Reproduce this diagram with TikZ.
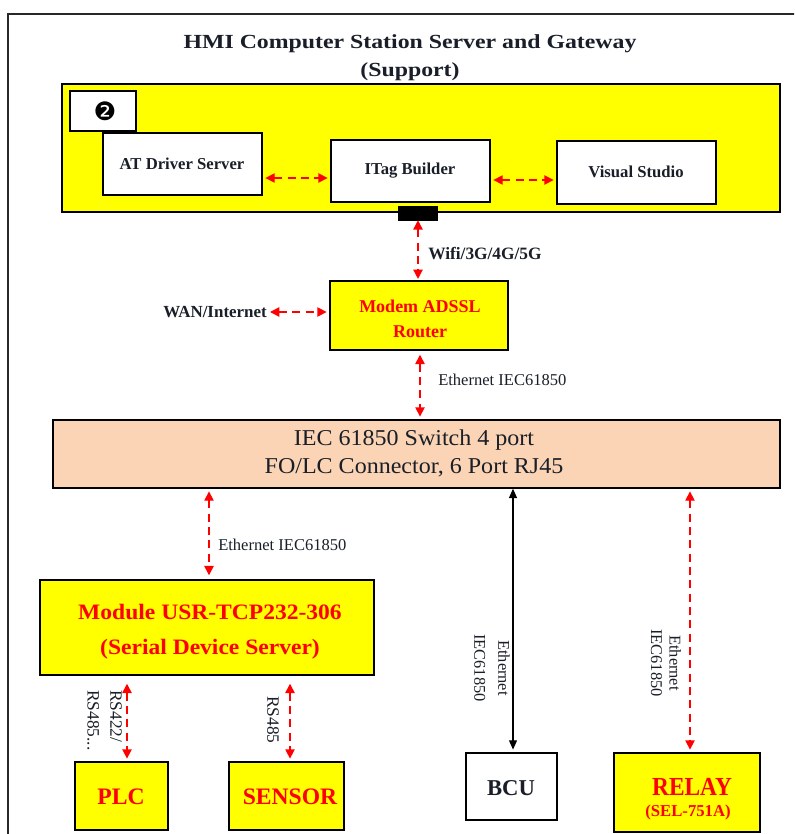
\documentclass[tikz,border=0pt]{standalone}
\usepackage{graphicx}
\usepackage{fontspec}
\setmainfont{Liberation Serif}
\newfontfamily\djv{DejaVu Sans}
\usetikzlibrary{arrows.meta,fit}
\definecolor{ylw}{RGB}{255,255,0}
\definecolor{peach}{RGB}{250,212,180}
\definecolor{rd}{RGB}{255,0,0}
\definecolor{frame}{RGB}{40,40,40}
\definecolor{ink}{RGB}{25,30,40}
\newcommand{\fs}[2]{\fontsize{#1}{#2}\selectfont}
\newcommand{\stk}[2]{\scalebox{#1}[1]{\begin{tabular}{@{}c@{}}#2\end{tabular}}}
\begin{document}
\begin{tikzpicture}[x=0.75pt,y=-0.75pt,
  box/.style={draw=black, line width=1.1pt, inner sep=0pt},
  ybox/.style={box, fill=ylw},
  wbox/.style={box, fill=white},
  redtxt/.style={text=rd, font=\bfseries\fs{#1}{#1}, inner sep=0pt},
  blktxt/.style={text=ink, font=\bfseries\fs{#1}{#1}, inner sep=0pt},
  rarr/.style={draw=rd, line width=1.1pt, dash pattern=on 6pt off 4pt,
    {Triangle[length=7pt,width=7pt]}-{Triangle[length=7pt,width=7pt]}},
  barr/.style={draw=black, line width=0.9pt,
    {Triangle[length=7pt,width=6pt]}-{Triangle[length=7pt,width=6pt]}},
  lbl/.style={text=ink, font=\fs{12.4}{12.4}, inner sep=0pt},
  blbl/.style={text=ink, font=\bfseries\fs{#1}{#1}, inner sep=0pt},
  vlbl/.style={text=ink, font=\fs{12.3}{#1}, inner sep=0pt, rotate=-90}
]
\useasboundingbox (0,0) rectangle (794,834);
\clip (0,0) rectangle (794,834);
\fill[white] (0,0) rectangle (794,834);
% outer frame
\draw[frame, line width=1.2pt] (8,14) rectangle (805,845);
% title
\node[text=ink, font=\bfseries\fs{15}{21}, inner sep=0pt] (title) at (410,57) {\stk{1.19}{HMI Computer Station Server and Gateway\\(Support)}};
% top yellow container
\node[ybox, fit={(62,84) (780,212)}] (hmi) {};
\node[wbox, fit={(70,91) (136,131)}] (num) {};
\node[inner sep=0pt, font=\djv\fs{19}{19}] (numt) at (105,111) {❷};
\node[wbox, fit={(103,133) (262,195)}] (atd) {};
\node[blktxt=12.5] (atdt) at (182,164) {AT Driver Server};
\node[wbox, fit={(331,140) (490,202)}] (itag) {};
\node[blktxt=12.5] (itagt) at (410,171) {ITag Builder};
\node[wbox, fit={(557,141) (716,204)}] (vs) {};
\node[blktxt=12.5] (vst) at (636,172) {Visual Studio};
\node[fill=black, draw=black, inner sep=0pt, fit={(398,206) (437,220)}] (port) {};
\draw[rarr, shorten <=2pt, shorten >=2pt] (atd.east |- 0,178) -- (itag.west |- 0,178);
\draw[rarr, shorten <=2pt, shorten >=2pt] (itag.east |- 0,180) -- (vs.west |- 0,180);
% modem
\node[ybox, fit={(330,281) (508,350)}] (modem) {};
\node[text=rd, font=\bfseries\fs{13.5}{19}, inner sep=0pt] (modemt) at (420,320) {\stk{1}{Modem ADSSL\\Router}};
\draw[rarr, shorten >=1pt] (port.south -| 418,0) -- (modem.north -| 418,0);
\node[blbl=13, anchor=west] (wifi) at (428,254) {Wifi/3G/4G/5G};
\node[blbl=12.7, anchor=east] (wan) at (267,312) {WAN/Internet};
\coordinate (wanend) at (270,312);
\draw[rarr, shorten >=2pt] (wanend) -- (modem.west |- 0,312);
% switch
\node[box, fill=peach, fit={(53,420) (780,488)}] (sw) {};
\node[text=ink, font=\fs{17}{21}, inner sep=0pt] (swt) at (414,454) {\stk{1.06}{IEC 61850 Switch 4 port\\FO/LC Connector,\ 6 Port RJ45}};
\draw[rarr, shorten <=3pt, shorten >=2pt] (modem.south -| 420,0) -- (sw.north -| 420,0);
\node[lbl, anchor=west] (eth1) at (438,380) {Ethernet IEC61850};
% module
\node[ybox, fit={(40,580) (374,675)}] (mod) {};
\node[text=rd, font=\bfseries\fs{16.5}{26}, inner sep=0pt] (modt) at (210,630) {\stk{1.07}{Module USR-TCP232-306\\(Serial Device Server)}};
\draw[rarr, shorten <=2pt, shorten >=3pt] (sw.south -| 209,0) -- (mod.north -| 209,0);
\node[lbl, anchor=west] (eth2) at (218,545) {Ethernet IEC61850};
% PLC, Sensor
\node[ybox, fit={(75,762) (168,830)}] (plc) {};
\node[redtxt=17.7] (plct) at (121,797) {PLC};
\node[ybox, fit={(229,762) (344,830)}] (sensor) {};
\node[redtxt=17.7] (sensort) at (290,797) {SENSOR};
\draw[rarr, shorten <=6pt, shorten >=2pt] (mod.south -| 127,0) -- (plc.north -| 127,0);
\draw[rarr, shorten <=6pt, shorten >=2pt] (mod.south -| 290,0) -- (sensor.north -| 290,0);
\node[vlbl=17, font=\fs{13}{17}, align=left, anchor=north west] (rsplc) at (122,690) {RS422/\\RS485...};
\node[vlbl=13, font=\fs{13}{13}] (rssen) at (273,720) {RS485};
% BCU, Relay
\node[wbox, fit={(466,753) (557,820)}] (bcu) {};
\node[blktxt=17] (bcut) at (511,788) {BCU};
\node[ybox, fit={(614,753) (760,832)}] (relay) {};
\node[redtxt=19.5] (relayt) at (692,787) {\scalebox{0.9}[1]{RELAY}};
\node[redtxt=12.5] (relays) at (688,812) {(SEL-751A)};
\draw[barr, shorten >=2pt] (sw.south -| 513,0) -- (bcu.north -| 513,0);
\draw[rarr, shorten <=2pt, shorten >=2pt] (sw.south -| 690,0) -- (relay.north -| 690,0);
\node[vlbl=18, align=center] (lbcu) at (492,668) {Ethernet\\IEC61850};
\node[vlbl=14, align=center] (lrel) at (666,663) {Ethernet\\IEC61850};
\end{tikzpicture}
\end{document}
